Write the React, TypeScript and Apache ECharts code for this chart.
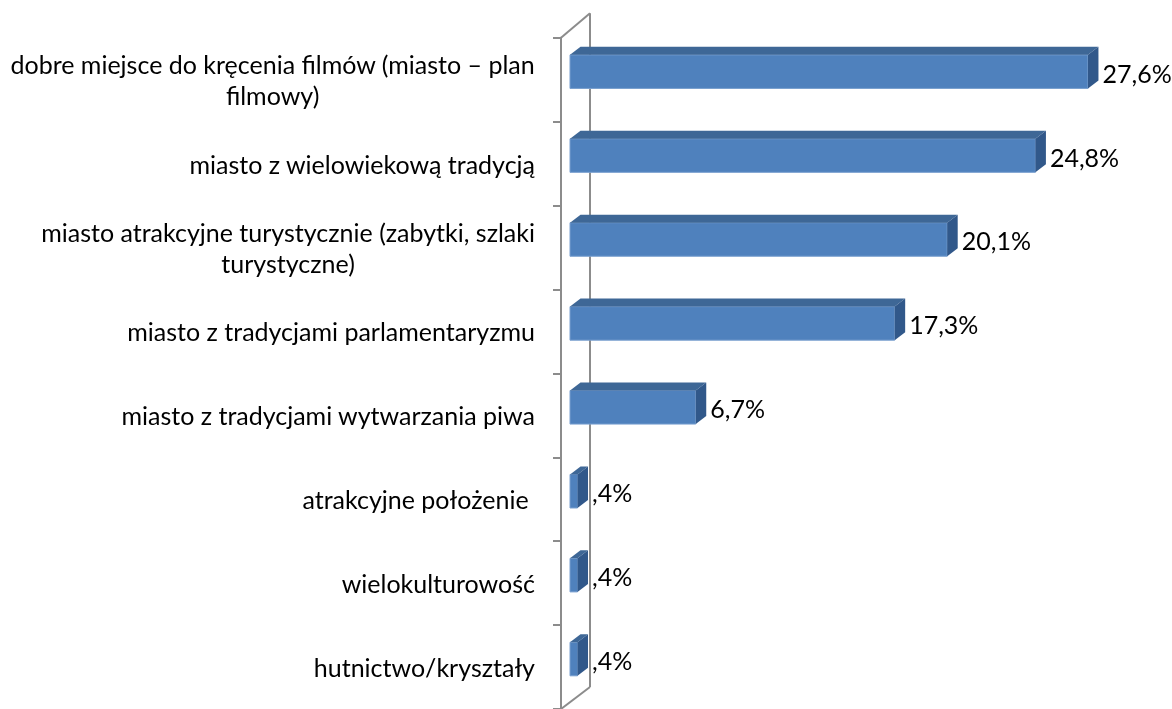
import React, { useEffect, useRef } from "react";
import * as echarts from "echarts";

const categories = [
  "dobre miejsce do kręcenia filmów (miasto – plan\nfilmowy)",
  "miasto z wielowiekową tradycją",
  "miasto atrakcyjne turystycznie (zabytki, szlaki\nturystyczne)",
  "miasto z tradycjami parlamentaryzmu",
  "miasto z tradycjami wytwarzania piwa",
  "atrakcyjne położenie ",
  "wielokulturowość",
  "hutnictwo/kryształy",
];
const values = [27.6, 24.8, 20.1, 17.3, 6.7, 0.4, 0.4, 0.4];
const valueLabels = ["27,6%", "24,8%", "20,1%", "17,3%", "6,7%", ",4%", ",4%", ",4%"];

const FONT_FAMILY = "Lato, 'Noto Sans', sans-serif";

function measure(text: string, size: number): number {
  const c = document.createElement("canvas");
  const ctx = c.getContext("2d")!;
  ctx.font = `${size}px ${FONT_FAMILY}`;
  return ctx.measureText(text).width;
}

export default function App() {
  const ref = useRef<HTMLDivElement>(null);
  useEffect(() => {
    document.body.style.margin = "0";
    const chart = echarts.init(ref.current!, undefined, { renderer: "svg" });
    const base = measure(categories[0].split("\n")[0], 24);
    const fs = Math.round(((24 * 527) / base) * 2) / 2;
    const font = `${fs}px ${FONT_FAMILY}`;
    const catWidths = categories.map((c) => Math.max(...c.split("\n").map((l) => measure(l, fs))));

    const dx = 10.5,
      dy = 8;

    chart.setOption({
      animation: false,
      grid: { left: 561, top: 37.7, width: 563, height: 674.4 },
      xAxis: { type: "value", min: 0, max: 30, show: false },
      yAxis: {
        type: "category",
        data: categories,
        inverse: true,
        axisLine: { show: true, lineStyle: { color: "#8c8c8c", width: 2 } },
        axisTick: { show: true, length: 8, lineStyle: { color: "#8c8c8c", width: 2 } },
        axisLabel: { show: false },
        splitLine: { show: false },
      },
      series: [
        {
          type: "custom",
          z: 1,
          silent: true,
          data: [[0, 0]],
          renderItem: (params: any, api: any) => {
            const cs = params.coordSys;
            const x = cs.x,
              y = cs.y,
              h = cs.height;
            const bx = x + 29;
            const st = { stroke: "#8c8c8c", lineWidth: 2, fill: "none" };
            const labels = categories.map((c, i) => {
              const p = api.coord([0, i]);
              const right = x - 26;
              const multi = c.indexOf("\n") >= 0;
              return {
                type: "text",
                style: {
                  x: multi ? right - catWidths[i] / 2 : right,
                  y: p[1],
                  text: c,
                  font,
                  lineHeight: 31,
                  fill: "#000",
                  align: multi ? "center" : "right",
                  verticalAlign: "middle",
                },
              };
            });
            return {
              type: "group",
              children: [
                { type: "line", shape: { x1: bx, y1: y - 24.5, x2: bx, y2: y + h - 22 }, style: st },
                { type: "line", shape: { x1: x, y1: y, x2: bx, y2: y - 24.5 }, style: st },
                { type: "line", shape: { x1: x, y1: y + h, x2: bx, y2: y + h - 22 }, style: st },
                ...labels,
              ],
            };
          },
        },
        {
          type: "custom",
          z: 2,
          silent: true,
          encode: { x: 0, y: 1 },
          data: values.map((v, i) => [v, i]),
          renderItem: (params: any, api: any) => {
            const v = api.value(0);
            const ci = api.value(1);
            const p0 = api.coord([0, ci]);
            const p1 = api.coord([v, ci]);
            const band = api.size([0, 1])[1];
            const bh = band * 0.4;
            const cy = p0[1] - 8;
            const x0 = p0[0] + 9;
            const x1 = p1[0] + 9;
            const yt = cy - bh / 2;
            const yb = cy + bh / 2;
            return {
              type: "group",
              children: [
                {
                  type: "rect",
                  shape: { x: x0, y: yt, width: x1 - x0, height: bh },
                  style: { fill: "#4F81BD", stroke: "#7aa0d0", lineWidth: 1 },
                },
                {
                  type: "polygon",
                  shape: { points: [[x0, yt], [x1, yt], [x1 + dx, yt - dy], [x0 + dx, yt - dy]] },
                  style: { fill: "#3e6796" },
                },
                {
                  type: "polygon",
                  shape: { points: [[x1, yt], [x1 + dx, yt - dy], [x1 + dx, yb - dy], [x1, yb]] },
                  style: { fill: "#31588a" },
                },
                {
                  type: "text",
                  style: {
                    x: x1 + dx + 4,
                    y: cy + 1,
                    text: valueLabels[params.dataIndex],
                    font,
                    fill: "#000",
                    align: "left",
                    verticalAlign: "middle",
                  },
                },
              ],
            };
          },
        },
      ],
    });
    return () => chart.dispose();
  }, []);
  return <div ref={ref} style={{ position: "fixed", left: 0, top: 0, width: 1172, height: 709 }} />;
}
